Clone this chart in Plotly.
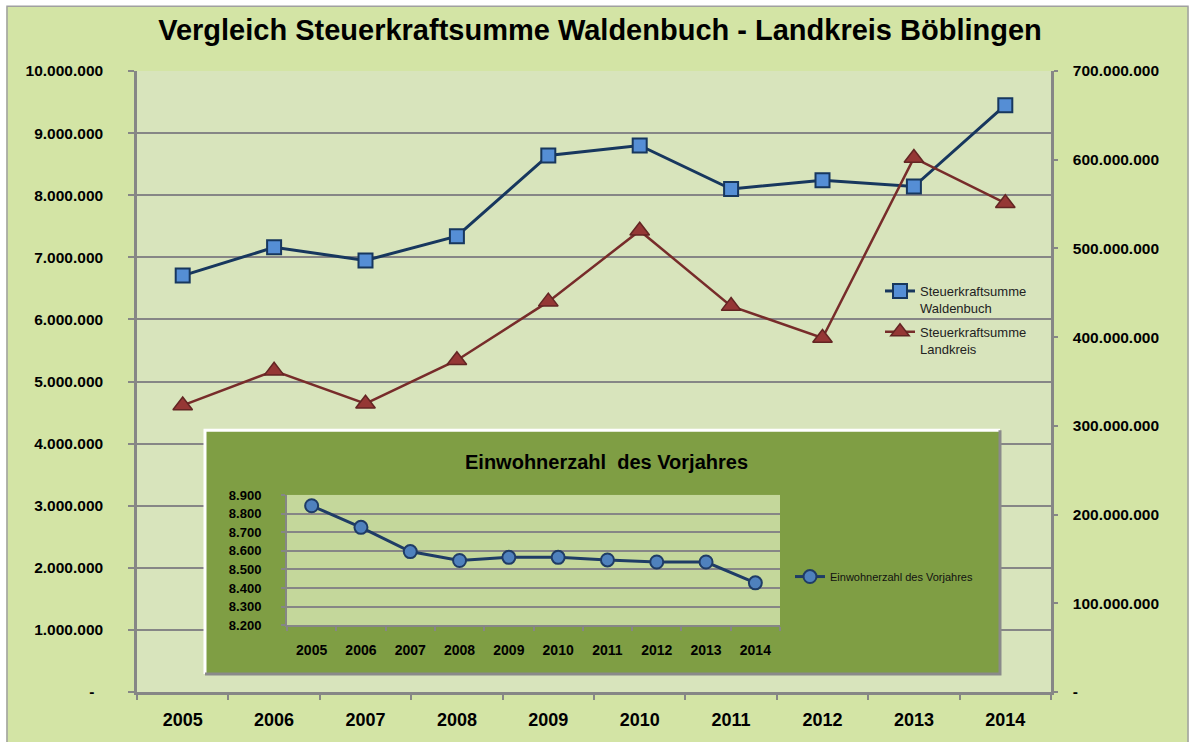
import plotly.graph_objects as go

# ---------------- data ----------------
years = ["2005", "2006", "2007", "2008", "2009", "2010", "2011", "2012", "2013", "2014"]
waldenbuch = [6705000, 7160000, 6950000, 7340000, 8640000, 8800000, 8100000, 8240000, 8140000, 9450000]
landkreis = [323000000, 362000000, 325000000, 374000000, 440000000, 520000000, 435000000, 399000000, 602000000, 551000000]
einwohner = [8842, 8726, 8596, 8548, 8565, 8565, 8551, 8540, 8540, 8428]

left_ticks = [0, 1000000, 2000000, 3000000, 4000000, 5000000, 6000000, 7000000, 8000000, 9000000, 10000000]
right_ticks = [0, 100000000, 200000000, 300000000, 400000000, 500000000, 600000000, 700000000]
inset_ticks = [8200, 8300, 8400, 8500, 8600, 8700, 8800, 8900]

title_text = "Vergleich Steuerkraftsumme Waldenbuch - Landkreis Böblingen"
inset_title = "Einwohnerzahl  des Vorjahres"
name_w = "Steuerkraftsumme<br>Waldenbuch"
name_l = "Steuerkraftsumme<br>Landkreis"
name_e = "Einwohnerzahl des Vorjahres"


def de(v):
    return f"{v:,}".replace(",", ".")


left_text = ["-\u00a0\u00a0" if v == 0 else de(v) for v in left_ticks]
right_text = ["-" if v == 0 else de(v) for v in right_ticks]
inset_text = [de(v) for v in inset_ticks]

# ---------------- geometry (pixels) ----------------
W, H = 1195, 742
ML, MR, MT, MB = 137, 144, 71, 47
PW, PH = W - ML - MR, H - MT - MB


def px(x):
    return (x - ML) / PW


def py(y):
    return 1 - (y - MT) / PH


box = (205, 432, 1000, 677)       # inset panel
inner = (287, 497, 780, 628)      # inset plot area

BOLD = "Liberation Sans"
NARROW = "Liberation Sans Narrow, Arial Narrow, Liberation Sans, sans-serif"
GRID = "#868686"

fig = go.Figure()

fig.add_trace(go.Scatter(
    x=years, y=waldenbuch, name=name_w, mode="lines+markers", legendgroup="w",
    line=dict(color="#17375e", width=3),
    marker=dict(symbol="square", size=14, color="#558ed5", line=dict(color="#17375e", width=2)),
    xaxis="x", yaxis="y", legend="legend",
))
fig.add_trace(go.Scatter(
    x=years, y=landkreis, name=name_l, mode="lines+markers", legendgroup="l",
    line=dict(color="#772c2a", width=2.5),
    marker=dict(symbol="triangle-up", size=17, color="#953735", line=dict(color="#632523", width=1.5)),
    xaxis="x", yaxis="y2", legend="legend",
))
# placeholder so the inset panel subplot exists (drawn before inset)
fig.add_trace(go.Scatter(x=[None], y=[None], xaxis="x2", yaxis="y3", showlegend=False, hoverinfo="skip"))
fig.add_trace(go.Scatter(
    x=years, y=einwohner, name=name_e, mode="lines+markers",
    line=dict(color="#1f3c66", width=3),
    marker=dict(symbol="circle", size=13, color="#4f81bd", line=dict(color="#1f3c66", width=2)),
    xaxis="x3", yaxis="y4", legend="legend2",
))

shapes = []
# main plot background
shapes.append(dict(type="rect", xref="x", yref="y", x0=-5, x1=20, y0=-1e9, y1=1e9,
                   fillcolor="#d8e4bc", line=dict(width=0), layer="below"))
# inset dark panel
shapes.append(dict(type="rect", xref="x2", yref="y3", x0=-5, x1=5, y0=-5, y1=5,
                   fillcolor="#7f9e44", line=dict(width=0), layer="below"))
# inset inner plot area
shapes.append(dict(type="rect", xref="x3", yref="y4", x0=-5, x1=20, y0=0, y1=20000,
                   fillcolor="#c4d79b", line=dict(width=0), layer="below"))
# inset panel edges
shapes.append(dict(type="path", xref="paper", yref="paper", layer="above",
                   path=f"M {px(box[0])} {py(box[3])} L {px(box[0])} {py(box[1])} L {px(box[2])} {py(box[1])}",
                   line=dict(color="white", width=3)))
shapes.append(dict(type="path", xref="paper", yref="paper", layer="above",
                   path=f"M {px(box[2])} {py(box[1])} L {px(box[2])} {py(box[3])} L {px(box[0])} {py(box[3])}",
                   line=dict(color="#8a8a8a", width=3)))
# outer white margin and frame
shapes.append(dict(type="rect", xref="paper", yref="paper", layer="above",
                   x0=px(0), x1=px(W), y0=py(H + 20), y1=py(0),
                   line=dict(color="white", width=13), fillcolor="rgba(0,0,0,0)"))
shapes.append(dict(type="rect", xref="paper", yref="paper", layer="above",
                   x0=px(7), x1=px(1188), y0=py(H + 10), y1=py(6),
                   line=dict(color="#a0a0a0", width=1.5), fillcolor="rgba(0,0,0,0)"))

fig.update_layout(
    width=W, height=H,
    margin=dict(l=ML, r=MR, t=MT, b=MB),
    paper_bgcolor="#d3e4a5",
    plot_bgcolor="#d8e4bc",
    showlegend=True,
    title=dict(text=title_text, x=600 / W, xref="container", xanchor="center",
               y=1 - 30 / H, yref="container", yanchor="middle",
               font=dict(family=BOLD, size=29, color="black", weight="bold")),
    xaxis=dict(
        domain=[0, 1], anchor="y", type="category", range=[-0.5, 9.5],
        showgrid=False, showline=True, linecolor=GRID, linewidth=2.5,
        ticks="outside", tickson="boundaries", ticklen=5, tickwidth=2, tickcolor=GRID,
        tickfont=dict(family=BOLD, size=18, color="black", weight="bold"),
        ticklabelstandoff=10, zeroline=False,
    ),
    yaxis=dict(
        domain=[0, 1], anchor="x", range=[0, 10000000],
        tickvals=left_ticks, ticktext=left_text,
        showgrid=True, gridcolor=GRID, gridwidth=2,
        showline=True, linecolor=GRID, linewidth=2.5,
        ticks="outside", ticklen=6, tickwidth=2, tickcolor=GRID,
        tickfont=dict(family=BOLD, size=15.5, color="black", weight="bold"),
        ticklabelstandoff=22, zeroline=False,
    ),
    yaxis2=dict(
        overlaying="y", side="right", anchor="x", range=[0, 700000000],
        tickvals=right_ticks, ticktext=right_text,
        showgrid=False, showline=True, linecolor=GRID, linewidth=2.5,
        ticks="outside", ticklen=4, tickwidth=2, tickcolor=GRID,
        tickfont=dict(family=BOLD, size=15.5, color="black", weight="bold"),
        ticklabelstandoff=12, zeroline=False,
    ),
    xaxis2=dict(domain=[px(box[0]), px(box[2])], anchor="y3", range=[0, 1], visible=False, fixedrange=True),
    yaxis3=dict(domain=[py(box[3]), py(box[1])], anchor="x2", range=[0, 1], visible=False, fixedrange=True),
    xaxis3=dict(
        domain=[px(inner[0]), px(inner[2])], anchor="y4", type="category", range=[-0.5, 9.5],
        showgrid=False, showline=True, linecolor=GRID, linewidth=2,
        ticks="outside", tickson="boundaries", ticklen=4, tickwidth=1.5, tickcolor=GRID,
        tickfont=dict(family=NARROW, size=14, color="black", weight="bold"),
        ticklabelstandoff=11, zeroline=False,
    ),
    yaxis4=dict(
        domain=[py(inner[3]), py(inner[1])], anchor="x3", range=[8200, 8900],
        tickvals=inset_ticks, ticktext=inset_text,
        showgrid=True, gridcolor=GRID, gridwidth=2,
        showline=True, linecolor=GRID, linewidth=2,
        ticks="outside", ticklen=4, tickwidth=1.5, tickcolor=GRID,
        tickfont=dict(family=NARROW, size=13, color="black", weight="bold"),
        ticklabelstandoff=17, zeroline=False,
    ),
    legend=dict(
        x=px(880), y=py(277), xanchor="left", yanchor="top", valign="top",
        bgcolor="rgba(0,0,0,0)", font=dict(family="Liberation Sans", size=13, color="#222222"),
        traceorder="grouped", tracegroupgap=4, itemwidth=30,
    ),
    legend2=dict(
        x=px(790), y=py(579), xanchor="left", yanchor="middle",
        bgcolor="rgba(0,0,0,0)", font=dict(family=NARROW, size=11, color="#111111"),
        itemwidth=30,
    ),
    annotations=[dict(
        text=inset_title, xref="paper", yref="paper", x=px(606), y=py(464),
        xanchor="center", yanchor="middle", showarrow=False,
        font=dict(family=NARROW, size=20, color="black", weight="bold"),
    )],
    shapes=shapes,
)

fig.write_html("out.html", config={"displayModeBar": False},
               post_script="document.body.style.margin='0';document.body.style.overflow='hidden';")
